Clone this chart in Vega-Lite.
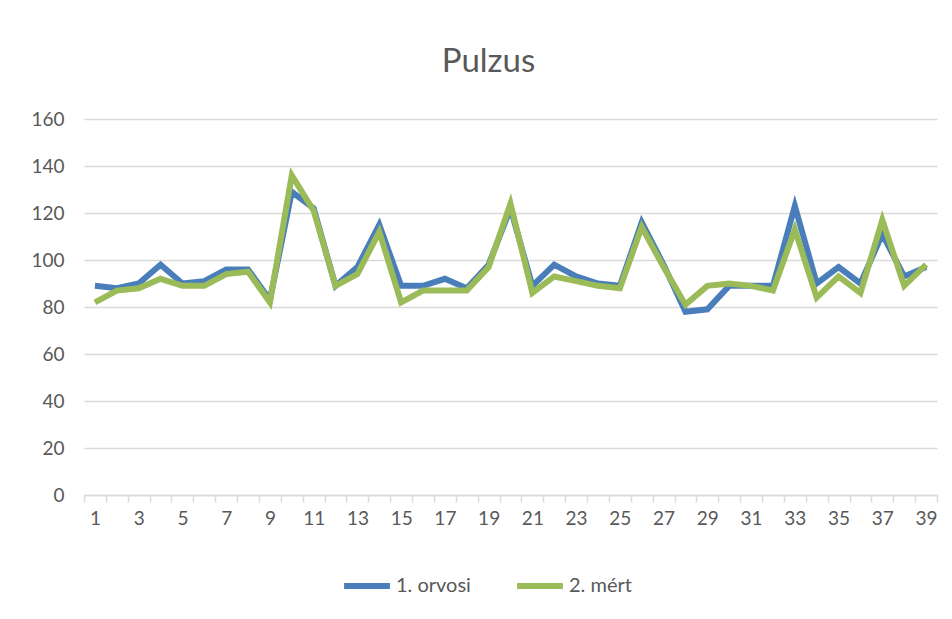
{
  "$schema": "https://vega.github.io/schema/vega-lite/v6.json",
  "width": 853,
  "height": 376,
  "autosize": "none",
  "padding": {"left": 84, "top": 119, "right": 15, "bottom": 124},
  "background": "white",
  "title": {"text": "Pulzus", "fontSize": 33, "font": "Lato", "fontWeight": "normal", "color": "#595959", "anchor": "middle", "dx": -22, "offset": 31},
  "data": {"values": [
    {"n": 1, "s": "1. orvosi", "v": 89}, {"n": 2, "s": "1. orvosi", "v": 88}, {"n": 3, "s": "1. orvosi", "v": 90},
    {"n": 4, "s": "1. orvosi", "v": 98}, {"n": 5, "s": "1. orvosi", "v": 90}, {"n": 6, "s": "1. orvosi", "v": 91},
    {"n": 7, "s": "1. orvosi", "v": 96}, {"n": 8, "s": "1. orvosi", "v": 96}, {"n": 9, "s": "1. orvosi", "v": 83},
    {"n": 10, "s": "1. orvosi", "v": 129}, {"n": 11, "s": "1. orvosi", "v": 122}, {"n": 12, "s": "1. orvosi", "v": 89},
    {"n": 13, "s": "1. orvosi", "v": 97}, {"n": 14, "s": "1. orvosi", "v": 115}, {"n": 15, "s": "1. orvosi", "v": 89},
    {"n": 16, "s": "1. orvosi", "v": 89}, {"n": 17, "s": "1. orvosi", "v": 92}, {"n": 18, "s": "1. orvosi", "v": 88},
    {"n": 19, "s": "1. orvosi", "v": 98}, {"n": 20, "s": "1. orvosi", "v": 122}, {"n": 21, "s": "1. orvosi", "v": 89},
    {"n": 22, "s": "1. orvosi", "v": 98}, {"n": 23, "s": "1. orvosi", "v": 93}, {"n": 24, "s": "1. orvosi", "v": 90},
    {"n": 25, "s": "1. orvosi", "v": 89}, {"n": 26, "s": "1. orvosi", "v": 116}, {"n": 27, "s": "1. orvosi", "v": 98},
    {"n": 28, "s": "1. orvosi", "v": 78}, {"n": 29, "s": "1. orvosi", "v": 79}, {"n": 30, "s": "1. orvosi", "v": 89},
    {"n": 31, "s": "1. orvosi", "v": 89}, {"n": 32, "s": "1. orvosi", "v": 89}, {"n": 33, "s": "1. orvosi", "v": 123},
    {"n": 34, "s": "1. orvosi", "v": 90}, {"n": 35, "s": "1. orvosi", "v": 97}, {"n": 36, "s": "1. orvosi", "v": 90},
    {"n": 37, "s": "1. orvosi", "v": 111}, {"n": 38, "s": "1. orvosi", "v": 93}, {"n": 39, "s": "1. orvosi", "v": 97},
    {"n": 1, "s": "2. mért", "v": 82}, {"n": 2, "s": "2. mért", "v": 87}, {"n": 3, "s": "2. mért", "v": 88},
    {"n": 4, "s": "2. mért", "v": 92}, {"n": 5, "s": "2. mért", "v": 89}, {"n": 6, "s": "2. mért", "v": 89},
    {"n": 7, "s": "2. mért", "v": 94}, {"n": 8, "s": "2. mért", "v": 95}, {"n": 9, "s": "2. mért", "v": 82},
    {"n": 10, "s": "2. mért", "v": 136}, {"n": 11, "s": "2. mért", "v": 121}, {"n": 12, "s": "2. mért", "v": 89},
    {"n": 13, "s": "2. mért", "v": 94}, {"n": 14, "s": "2. mért", "v": 112}, {"n": 15, "s": "2. mért", "v": 82},
    {"n": 16, "s": "2. mért", "v": 87}, {"n": 17, "s": "2. mért", "v": 87}, {"n": 18, "s": "2. mért", "v": 87},
    {"n": 19, "s": "2. mért", "v": 97}, {"n": 20, "s": "2. mért", "v": 124}, {"n": 21, "s": "2. mért", "v": 86},
    {"n": 22, "s": "2. mért", "v": 93}, {"n": 23, "s": "2. mért", "v": 91}, {"n": 24, "s": "2. mért", "v": 89},
    {"n": 25, "s": "2. mért", "v": 88}, {"n": 26, "s": "2. mért", "v": 114}, {"n": 27, "s": "2. mért", "v": 97},
    {"n": 28, "s": "2. mért", "v": 81}, {"n": 29, "s": "2. mért", "v": 89}, {"n": 30, "s": "2. mért", "v": 90},
    {"n": 31, "s": "2. mért", "v": 89}, {"n": 32, "s": "2. mért", "v": 87}, {"n": 33, "s": "2. mért", "v": 113},
    {"n": 34, "s": "2. mért", "v": 84}, {"n": 35, "s": "2. mért", "v": 93}, {"n": 36, "s": "2. mért", "v": 86},
    {"n": 37, "s": "2. mért", "v": 117}, {"n": 38, "s": "2. mért", "v": 89}, {"n": 39, "s": "2. mért", "v": 98}
  ]},
  "mark": {"type": "line", "strokeWidth": 6, "strokeJoin": "miter", "strokeCap": "butt"},
  "encoding": {
    "x": {
      "field": "n", "type": "ordinal", "bandPosition": 0.5,
      "scale": {"type": "band", "paddingInner": 0, "paddingOuter": 0},
      "axis": {"title": null, "labelAngle": 0, "tickBand": "extent", "labelExpr": "datum.value % 2 == 1 ? datum.label : ''",
        "domainColor": "#d9d9d9", "domainWidth": 1.5, "tickColor": "#d9d9d9", "tickWidth": 1.5, "tickSize": 7,
        "labelFont": "Lato", "labelFontSize": 19, "labelColor": "#595959", "labelPadding": 7, "grid": false}
    },
    "y": {
      "field": "v", "type": "quantitative",
      "scale": {"domain": [0, 160], "nice": false},
      "axis": {"title": null, "values": [0, 20, 40, 60, 80, 100, 120, 140, 160], "domain": false, "ticks": false,
        "labelFont": "Lato", "labelFontSize": 19, "labelColor": "#595959", "labelPadding": 20,
        "gridColor": "#d9d9d9", "gridWidth": 1.5}
    },
    "color": {
      "field": "s", "type": "nominal",
      "scale": {"domain": ["1. orvosi", "2. mért"], "range": ["#4a7ebb", "#9bbb59"]},
      "legend": {"title": null, "orient": "none", "legendX": 257, "legendY": 441, "direction": "horizontal", "symbolType": "stroke", "symbolSize": 2100,
        "symbolStrokeWidth": 6, "labelFont": "Lato", "labelFontSize": 20, "labelColor": "#595959", "labelOffset": 3,
        "columnPadding": 34}
    }
  },
  "config": {"view": {"stroke": null}}
}
